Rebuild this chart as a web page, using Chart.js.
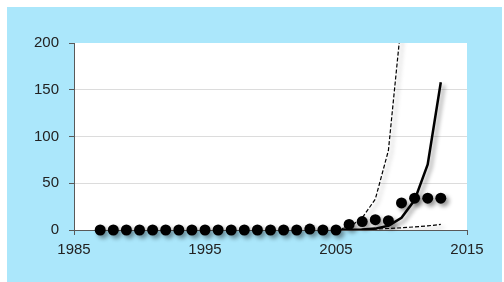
<!DOCTYPE html>
<html>
<head>
<meta charset="utf-8">
<script src="https://cdn.jsdelivr.net/npm/chart.js@4.4.0/dist/chart.umd.min.js"></script>
<style>
  html, body { margin: 0; padding: 0; background: #fff; }
  #wrap { width: 504px; height: 282px; }
</style>
</head>
<body>
<div id="wrap"><canvas id="growthChart" width="504" height="282"></canvas></div>
<script>
/* ================= DATA ================= */

const dotYears = [1987, 1988, 1989, 1990, 1991, 1992, 1993, 1994, 1995, 1996, 1997, 1998, 1999,
                  2000, 2001, 2002, 2003, 2004, 2005, 2006, 2007, 2008, 2009, 2010, 2011, 2012, 2013];
const dotValues = [0, 0, 0, 0, 0, 0, 0, 0, 0, 0, 0, 0, 0,
                   0, 0, 0, 1, 0, 0, 6, 9, 11, 10, 29, 34, 34, 34];

const fitYears  = [2005, 2006, 2007, 2008, 2009, 2010, 2011, 2012, 2013];
const fitValues = [0, 0.2, 0.6, 1.5, 4.5, 13, 32, 70, 158];

const upperYears  = [2005, 2006, 2007, 2008, 2009, 2010];
const upperValues = [0.5, 3, 13, 33, 85, 225];

const lowerYears  = [2006, 2007, 2008, 2009, 2010, 2011, 2012, 2013];
const lowerValues = [0.3, 0.6, 1, 1.6, 2.4, 3.3, 4.4, 6];

const xTicks = [1985, 1995, 2005, 2015];
const yTicks = [0, 50, 100, 150, 200];

const toPoints = (xs, ys) => xs.map((x, i) => ({ x: x, y: ys[i] }));

/* ================= PLUGINS ================= */

// light blue panel + white plot area
const panelBg = {
  id: 'panelBg',
  beforeDraw(chart) {
    const { ctx, chartArea } = chart;
    ctx.save();
    ctx.fillStyle = '#abe7fb';
    ctx.fillRect(7, 7, 495, 275);
    ctx.fillStyle = '#ffffff';
    ctx.fillRect(chartArea.left, chartArea.top, chartArea.right - chartArea.left, chartArea.bottom - chartArea.top);
    ctx.restore();
  }
};

// soft drop shadow like the office chart
const dropShadow = {
  id: 'dropShadow',
  beforeDatasetDraw(chart) {
    const ctx = chart.ctx;
    ctx.save();
    ctx.shadowColor = 'rgba(0,0,0,0.4)';
    ctx.shadowBlur = 4;
    ctx.shadowOffsetX = 3;
    ctx.shadowOffsetY = 3;
  },
  afterDatasetDraw(chart) {
    chart.ctx.restore();
  }
};

/* ================= CHART ================= */

const tickFont = { family: "'Liberation Sans', Arial, sans-serif", size: 15 };

new Chart(document.getElementById('growthChart'), {
  type: 'scatter',
  data: {
    datasets: [
      {
        label: 'observed',
        data: toPoints(dotYears, dotValues),
        backgroundColor: '#000',
        borderWidth: 0,
        pointRadius: 5.5,
        clip: false,
        order: 0
      },
      {
        label: 'fit',
        data: toPoints(fitYears, fitValues),
        showLine: true,
        borderColor: '#000',
        borderWidth: 2.5,
        pointRadius: 0,
        tension: 0,
        order: 1
      },
      {
        label: 'upper',
        data: toPoints(upperYears, upperValues),
        showLine: true,
        borderColor: '#000',
        borderWidth: 1.2,
        borderDash: [4, 2],
        pointRadius: 0,
        tension: 0,
        order: 2
      },
      {
        label: 'lower',
        data: toPoints(lowerYears, lowerValues),
        showLine: true,
        borderColor: '#000',
        borderWidth: 1.2,
        borderDash: [4, 2],
        pointRadius: 0,
        tension: 0,
        order: 3
      }
    ]
  },
  options: {
    responsive: false,
    devicePixelRatio: 1,
    animation: false,
    layout: { padding: { top: 43, right: 37, left: 0, bottom: 0 } },
    plugins: {
      legend: { display: false },
      tooltip: { enabled: false }
    },
    scales: {
      x: {
        type: 'linear',
        min: 1985,
        max: 2015,
        afterFit: s => { s.height = 52; },
        afterBuildTicks: s => { s.ticks = xTicks.map(v => ({ value: v })); },
        ticks: { color: '#222', font: tickFont, padding: 6, maxRotation: 0, callback: v => String(v) },
        grid: { drawOnChartArea: false, tickLength: 5, tickColor: '#595959' },
        border: { color: '#595959', width: 1 }
      },
      y: {
        min: 0,
        max: 200,
        afterFit: s => { s.width = 74; },
        afterBuildTicks: s => { s.ticks = yTicks.map(v => ({ value: v })); },
        ticks: { color: '#222', font: tickFont, padding: 10 },
        grid: {
          color: c => (c.tick && (c.tick.value === 200 || c.tick.value === 0)) ? 'rgba(0,0,0,0)' : '#dcdcdc',
          tickLength: 5,
          tickColor: '#595959'
        },
        border: { color: '#595959', width: 1 }
      }
    }
  },
  plugins: [panelBg, dropShadow]
});
</script>
</body>
</html>
